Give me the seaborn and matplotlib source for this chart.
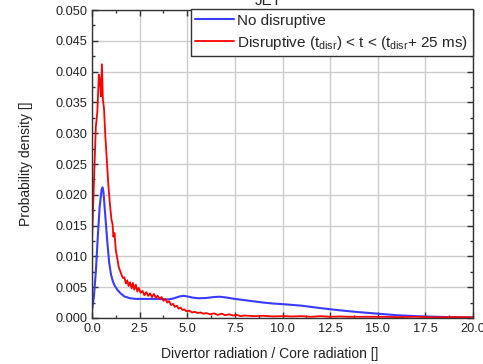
import numpy as np
import pandas as pd
import matplotlib
matplotlib.use("Agg")
import matplotlib.pyplot as plt
import seaborn as sns
from matplotlib.ticker import MultipleLocator, FormatStrFormatter

# Blue curve: no disruptive
blue_x = [0.0, 0.1, 0.2, 0.3, 0.4, 0.5, 0.55, 0.6, 0.7, 0.8, 0.9, 1.0, 1.1, 1.2,
          1.35, 1.5, 1.7, 2.0, 2.3, 2.7, 3.0, 3.5, 4.0, 4.3, 4.6, 4.8, 5.0, 5.3,
          5.6, 6.0, 6.4, 6.7, 7.0, 7.5, 8.0, 8.5, 9.0, 9.5, 10.0, 11.0, 12.0,
          13.0, 14.0, 15.0, 16.0, 17.0, 18.0, 19.0, 20.0]
blue_y = [0.0012, 0.0035, 0.0075, 0.0130, 0.0180, 0.0208, 0.0212, 0.0205,
          0.0165, 0.0125, 0.0090, 0.0070, 0.0059, 0.0052, 0.0045, 0.0040,
          0.0035, 0.0032, 0.0031, 0.0031, 0.0031, 0.0031, 0.0030, 0.0032,
          0.0035, 0.0036, 0.0035, 0.0033, 0.0032, 0.00325, 0.0034, 0.00345,
          0.00335, 0.0031, 0.0029, 0.0027, 0.0025, 0.00235, 0.00225, 0.0020,
          0.0016, 0.00125, 0.00095, 0.0007, 0.00045, 0.0003, 0.0002, 0.00012,
          0.00008]

# Red curve: disruptive window
red_x = [0.0, 0.1, 0.2, 0.28, 0.36, 0.42, 0.47, 0.52, 0.57, 0.63, 0.7, 0.78,
         0.86, 0.94, 1.02, 1.08, 1.12, 1.18, 1.25, 1.32, 1.4, 1.48, 1.55, 1.62,
         1.7, 1.78, 1.85, 1.92, 2.0, 2.08, 2.15, 2.22, 2.3, 2.38, 2.45, 2.55,
         2.65, 2.75, 2.85, 2.95, 3.05, 3.15, 3.25, 3.35, 3.45, 3.55, 3.65, 3.75,
         3.85, 3.95, 4.05, 4.15, 4.25, 4.35, 4.45, 4.55, 4.65, 4.75, 4.85, 4.95,
         5.1, 5.25, 5.4, 5.55, 5.7, 5.85, 6.0, 6.2, 6.4, 6.6, 6.8, 7.0, 7.2,
         7.4, 7.6, 7.8, 8.0, 8.5, 9.0, 9.5, 10.0, 10.5, 11.0, 11.5, 12.0, 12.5,
         13.0, 13.5, 14.0, 15.0, 16.0, 17.0, 18.0, 19.0, 20.0]
red_y = [0.0125, 0.0220, 0.0310, 0.0335, 0.0395, 0.0385, 0.0360, 0.0412,
         0.0355, 0.0340, 0.0295, 0.0255, 0.0215, 0.0185, 0.0160, 0.0152,
         0.0132, 0.0138, 0.0110, 0.0098, 0.0083, 0.0076, 0.0070, 0.0065,
         0.0066, 0.0056, 0.0061, 0.0052, 0.0058, 0.0048, 0.0057, 0.0046,
         0.0054, 0.0043, 0.0049, 0.0041, 0.0044, 0.0037, 0.0042, 0.0036,
         0.0040, 0.0034, 0.0039, 0.0033, 0.0036, 0.0031, 0.0034, 0.0028,
         0.0031, 0.0025, 0.0027, 0.0021, 0.0023, 0.0018, 0.0020, 0.0015,
         0.0017, 0.0013, 0.0014, 0.0011, 0.0012, 0.0009, 0.0010, 0.0008,
         0.0009, 0.0007, 0.0008, 0.0006, 0.00075, 0.0005, 0.0007, 0.00045,
         0.0006, 0.0004, 0.0005, 0.0003, 0.0004, 0.0003, 0.00035, 0.00025,
         0.0003, 0.00025, 0.0003, 0.0002, 0.0003, 0.0002, 0.00025, 0.0002,
         0.0002, 0.0002, 0.00015, 0.0002, 0.0001, 0.00015, 0.0001]

label_blue = "No disruptive"
label_red = r"Disruptive (t$_{disr}$) < t < (t$_{disr}$+ 25 ms)"

sns.set_theme(style="ticks")
plt.rcParams["font.family"] = ["Liberation Sans", "DejaVu Sans"]
plt.rcParams["mathtext.fontset"] = "custom"
plt.rcParams["mathtext.rm"] = "Liberation Sans"
plt.rcParams["mathtext.it"] = "Liberation Sans"
plt.rcParams["xtick.direction"] = "in"
plt.rcParams["ytick.direction"] = "in"

fig = plt.figure(figsize=(4.83, 3.64), dpi=100)
ax = fig.add_axes([0.1905, 0.1264, 0.7888, 0.8461])

sns.lineplot(x=blue_x, y=blue_y, color="#3b3bff", lw=1.5, label=label_blue,
             estimator=None, sort=False, ax=ax)
sns.lineplot(x=red_x, y=red_y, color="#ff0000", lw=1.3, label=label_red,
             estimator=None, sort=False, ax=ax)

ax.set_xlim(0, 20)
ax.set_ylim(0, 0.05)
ax.xaxis.set_major_locator(MultipleLocator(2.5))
ax.xaxis.set_minor_locator(MultipleLocator(1.25))
ax.yaxis.set_major_locator(MultipleLocator(0.005))
ax.yaxis.set_minor_locator(MultipleLocator(0.0025))
ax.xaxis.set_major_formatter(FormatStrFormatter("%.1f"))
ax.yaxis.set_major_formatter(FormatStrFormatter("%.3f"))
ax.tick_params(which="both", top=True, right=True, color="#333333",
               labelsize=9.2, labelcolor="#222222")
ax.tick_params(which="major", length=4, width=1)
ax.tick_params(which="minor", length=2.5, width=1)
ax.grid(True, which="major", color="#cccccc", lw=1)
for sp in ax.spines.values():
    sp.set_color("#333333")
    sp.set_linewidth(1)

ax.set_xlabel("Divertor radiation / Core radiation []", fontsize=10,
              color="#222222", va="center")
ax.xaxis.set_label_coords((270 - 92) / 381, -(354 - 318) / 308)
ax.set_ylabel("Probability density []", fontsize=10, color="#222222")
ax.yaxis.set_label_coords(-0.155, 0.5)

leg = ax.legend(loc="upper right", bbox_to_anchor=(1.0, 1.003), borderaxespad=0,
                fontsize=11, frameon=True, fancybox=False, framealpha=1,
                edgecolor="#333333", handlelength=2.5, handletextpad=0.25,
                borderpad=0.3, labelspacing=0.4)
leg.get_frame().set_linewidth(1)

fig.text(268 / 483, 1 - 5 / 364, "JET", fontsize=11, ha="center",
         va="baseline", color="#222222")

fig.savefig("out.png", dpi=100, facecolor="white")
